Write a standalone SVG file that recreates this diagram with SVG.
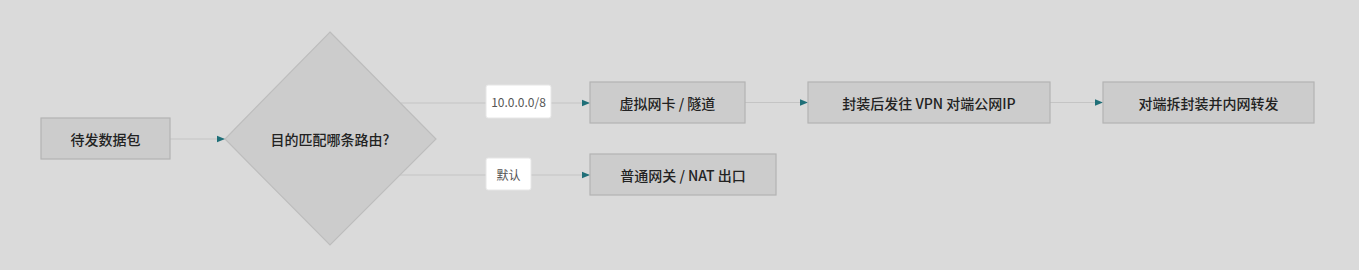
<svg xmlns="http://www.w3.org/2000/svg" width="1359" height="270" viewBox="0 0 1359 270">
<style>
.bg{fill:#dadada}
.node{fill:#cccccc;stroke:#b3b3b3;stroke-width:1.2}
.dia{fill:#cccccc;stroke:#bdbdbd;stroke-width:1.2}
.t{font-family:"Noto Sans CJK SC","Noto Sans",sans-serif;font-size:14px;font-weight:500;fill:#222;text-anchor:middle;dominant-baseline:central}
.edge{fill:none;stroke:#c4c4c4;stroke-width:1.2}
.lb{fill:#ffffff;stroke:#e6e6e6;stroke-width:1}
.lt{font-family:"Noto Sans CJK SC","Noto Sans",sans-serif;font-size:12px;fill:#555;text-anchor:middle;dominant-baseline:central}
</style>
<defs>
<marker id="ah" viewBox="0 0 10 10" refX="10" refY="5" markerWidth="9" markerHeight="8" markerUnits="userSpaceOnUse" orient="auto">
<path d="M0,1 L10,5 L0,9 Z" fill="#1f6f78"/>
</marker>
</defs>
<rect class="bg" x="0" y="0" width="1359" height="270"/>
<g id="connectors">
<path class="edge" d="M170,139 H225" marker-end="url(#ah)"/>
<path class="edge" d="M401,103 H590" marker-end="url(#ah)"/>
<path class="edge" d="M400,175 H590" marker-end="url(#ah)"/>
<path class="edge" d="M745,102.5 H808" marker-end="url(#ah)"/>
<path class="edge" d="M1050,102.5 H1103" marker-end="url(#ah)"/>
<g id="label-1"><rect class="lb" x="486" y="85" width="65" height="33" rx="2"/><text class="lt" x="518.5" y="101.5">10.0.0.0/8</text></g>
<g id="label-2"><rect class="lb" x="486" y="158" width="45" height="32" rx="2"/><text class="lt" x="508.5" y="174">默认</text></g>
</g>
<g id="n1"><rect class="node" x="41" y="118" width="129" height="41"/><text class="t" x="105.5" y="138.5">待发数据包</text></g>
<g id="n2"><polygon class="dia" points="330,32 436,139 330,245 225,139"/><text class="t" x="330" y="139">目的匹配哪条路由?</text></g>
<g id="n3"><rect class="node" x="590" y="82" width="155" height="41"/><text class="t" x="667.5" y="102.5">虚拟网卡 / 隧道</text></g>
<g id="n4"><rect class="node" x="590" y="154" width="186" height="41"/><text class="t" x="683" y="174.5">普通网关 / NAT 出口</text></g>
<g id="n5"><rect class="node" x="808" y="82" width="242" height="41"/><text class="t" x="929" y="102.5">封装后发往 VPN 对端公网IP</text></g>
<g id="n6"><rect class="node" x="1103" y="82" width="211" height="41"/><text class="t" x="1208.5" y="102.5">对端拆封装并内网转发</text></g>
</svg>
